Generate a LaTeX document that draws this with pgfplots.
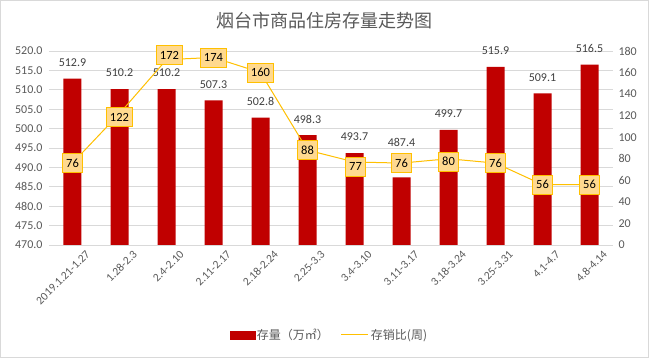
\documentclass[border=0pt]{standalone}
\usepackage{fontspec}
\setmainfont{Carlito}
\newfontfamily\cjk{Noto Sans CJK SC}
\usepackage{pgfplots}
\pgfplotsset{compat=1.18}
\definecolor{barred}{HTML}{C00000}
\definecolor{linegold}{HTML}{FFC000}
\definecolor{boxfill}{HTML}{FFD98F}
\definecolor{txtgray}{HTML}{595959}
\definecolor{lblgray}{HTML}{404040}
\definecolor{gridgray}{HTML}{D9D9D9}
\begin{document}
\begin{tikzpicture}
\fill[white] (0pt,0pt) rectangle (649pt,358pt);
\draw[gridgray, line width=1pt] (0.5pt,0.5pt) rectangle (648.5pt,357.5pt);
\node[txtgray, font=\cjk\fontsize{18}{20}\selectfont] at (324.5pt,337pt) {烟台市商品住房存量走势图};
\begin{axis}[
  at={(49pt,113pt)}, anchor=south west, scale only axis,
  width=564pt, height=194pt,
  xmin=-0.5, xmax=11.5, ymin=470, ymax=520,
  ytick={470,475,...,520},
  xtick={0,...,11},
  xticklabels={2019.1.21-1.27,1.28-2.3,2.4-2.10,2.11-2.17,2.18-2.24,2.25-3.3,3.4-3.10,3.11-3.17,3.18-3.24,3.25-3.31,4.1-4.7,4.8-4.14},
  x tick label style={rotate=45, anchor=north east, font=\fontsize{11.5}{13}\selectfont, text=txtgray, xshift=9pt, yshift=-9pt},
  y tick label style={font=\fontsize{12}{14}\selectfont, text=txtgray, xshift=-3pt},
  ymajorgrids, grid style={gridgray, line width=0.9pt},
  axis line style={draw=none}, major tick length=0pt,
  clip=false,
  /pgf/number format/fixed, /pgf/number format/fixed zerofill,
  /pgf/number format/precision=1, /pgf/number format/assume math mode=true,
]
\addplot[ybar, fill=barred, draw=none, bar width=18pt,
  nodes near coords,
  visualization depends on={value \thisrow{dy} \as \lbldy},
  every node near coord/.append style={anchor=center, yshift=\lbldy pt, text=lblgray, font=\fontsize{12}{14}\selectfont},
] table[x=x, y=y] {
x y dy
0 512.9 16
1 510.2 16
2 510.2 16
3 507.3 16
4 502.8 16
5 498.3 16
6 493.7 16
7 487.4 35
8 499.7 16
9 515.9 16
10 509.1 16
11 516.5 16
};
\end{axis}
\begin{axis}[
  at={(49pt,113pt)}, anchor=south west, scale only axis,
  width=564pt, height=194pt,
  xmin=-0.5, xmax=11.5, ymin=0, ymax=180,
  ytick={0,20,...,180},
  axis x line=none, axis y line*=right,
  yticklabel pos=right,
  y tick label style={font=\fontsize{12}{14}\selectfont, text=txtgray, xshift=2pt},
  axis line style={draw=none}, major tick length=0pt,
  /pgf/number format/assume math mode=true,
  clip=false,
  legend columns=2,
  legend style={at={(0.497,-0.463)}, anchor=center, draw=none, fill=none,
    font=\cjk\fontsize{12}{14}\selectfont, text=txtgray,
    /tikz/every even column/.append style={column sep=10pt}},
]
\addlegendimage{legend image code/.code={\fill[barred] (0pt,-4pt) rectangle (25pt,4pt);}}
\addlegendentry{存量（万㎡）}
\addlegendimage{legend image code/.code={\draw[linegold, line width=1pt] (0pt,0pt) -- (27pt,0pt);}}
\addlegendentry{存销比(周)}
\addplot[linegold, line width=1pt, mark=none,
  nodes near coords,
  visualization depends on={value \thisrow{dx} \as \boxdx},
  visualization depends on={value \thisrow{dy} \as \boxdy},
  every node near coord/.append style={anchor=center, xshift=\boxdx pt, yshift=\boxdy pt,
    fill=boxfill, draw=linegold, line width=0.8pt, text=black,
    font=\fontsize{12.5}{14}\selectfont, inner xsep=3.5pt, minimum height=19pt},
  forget plot,
] table[x=x, y=y] {
x y dx dy
0 76 0 0
1 122 0 -3.5
2 172 3 4.5
3 174 0 0
4 160 0 0
5 88 0 0
6 77 1 -4.5
7 76 0 0
8 80 0 -3
9 76 0 0
10 56 0 0
11 56 0 0
};
\end{axis}
\end{tikzpicture}
\end{document}
